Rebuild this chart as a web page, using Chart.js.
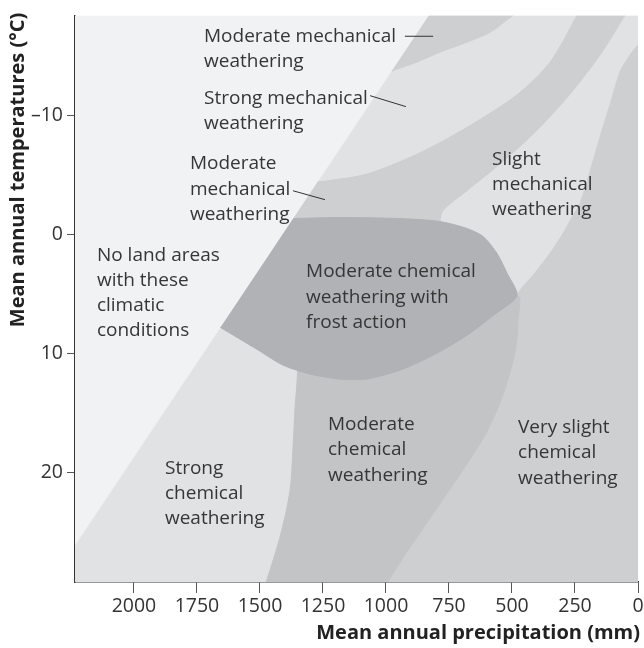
<!DOCTYPE html>
<html>
<head>
<meta charset="utf-8">
<script src="https://cdn.jsdelivr.net/npm/chart.js@4.4.1/dist/chart.umd.min.js"></script>
<style>
  html, body { margin: 0; padding: 0; background: #fff; }
</style>
</head>
<body>
<canvas id="grafico" width="644" height="648"></canvas>
<script>
// eixos: precipitação (mm, invertido) e temperatura (°C, invertido)
const precipRange = [0, 2234];
const tempRange = [-18.4, 29.25];
const precipTicks = [0, 250, 500, 750, 1000, 1250, 1500, 1750, 2000];
const tempTicks = [-10, 0, 10, 20];
const xTitle = "Mean annual precipitation (mm)";
const yTitle = "Mean annual temperatures (°C)";

// contornos das regiões: [precipitação, temperatura]
const noLandArea = [[-60, -20], [2400, -20], [2400, 31], [-60, 31]];
const strongBand = [[780, -20], [-60, -20], [-60, 31], [2386, 31]];
const upperMechanical = [[977, -13.75], [877, -14.5], [786, -15.33], [679, -16.17], [587, -17.0], [496, -18.42], [377, -20.1], [780, -20]];
const lowerMechanical = [[1441, 1.0], [800, 1.0], [786, -1.08], [774, -2.0], [679, -3.67], [548, -5.92], [417, -8.42], [282, -11.5], [151, -15.08], [52, -18.42], [-2, -20.1], [196, -20.1], [242, -18.42], [349, -14.5], [480, -11.75], [679, -9.0], [877, -6.75], [1075, -5.08], [1234, -4.5], [1271, -4.42]];
const verySlight = [[1042, 31], [944, 27.58], [813, 23.5], [679, 19.33], [599, 16.58], [536, 13.5], [488, 9.92], [476, 7.17], [480, 5.17], [409, 3.25], [349, 1.58], [302, 0.08], [258, -1.58], [230, -2.58], [190, -5.33], [151, -8.17], [111, -10.92], [71, -13.67], [32, -15.08], [0, -15.92], [-60, -16.7], [-60, 31]];
const moderateChemical = [[1502, 31], [1421, 25.5], [1381, 21.58], [1369, 18.0], [1361, 14.67], [1353, 12.42], [1349, 10.75], [1349, 9.08], [865, 8.25], [480, 5.17], [476, 7.17], [488, 9.92], [536, 13.5], [599, 16.58], [679, 19.33], [813, 23.5], [944, 27.58], [1042, 31]];
const frostAction = [[1657, 7.83], [1512, 9.67], [1409, 11.0], [1302, 11.75], [1183, 12.17], [1075, 12.17], [944, 11.42], [813, 10.17], [679, 8.5], [575, 6.83], [480, 5.17], [520, 3.25], [560, 1.58], [615, 0.17], [679, -0.5], [786, -1.08], [944, -1.33], [1183, -1.42], [1368, -1.33]];

// linhas de chamada
const leaderTop = [[925, -16.67], [813, -16.67]];
const leaderStrong = [[1063, -11.67], [921, -10.75]];
const leaderModerate = [[1369, -3.67], [1242, -2.92]];

// textos das regiões (canto esquerdo, centro da primeira linha)
const regionNotes = [
  { lines: ["Moderate mechanical", "weathering"], at: [1722, -16.67] },
  { lines: ["Strong mechanical", "weathering"], at: [1722, -11.42] },
  { lines: ["Moderate", "mechanical", "weathering"], at: [1778, -5.92] },
  { lines: ["Slight", "mechanical", "weathering"], at: [579, -6.33] },
  { lines: ["No land areas", "with these", "climatic", "conditions"], at: [2147, 1.75] },
  { lines: ["Moderate chemical", "weathering with", "frost action"], at: [1317, 3.17] },
  { lines: ["Moderate", "chemical", "weathering"], at: [1230, 16.0] },
  { lines: ["Very slight", "chemical", "weathering"], at: [476, 16.25] },
  { lines: ["Strong", "chemical", "weathering"], at: [1877, 19.67] }
];

if (typeof Chart === "undefined") throw new Error("Chart.js não carregou!");

Chart.defaults.font.family = "'Open Sans', sans-serif";
Chart.defaults.color = "#333";

const pontos = (arr) => arr.map(([x, y]) => ({ x, y }));

function regiao(arr, cor, ordem, tensao) {
  return {
    data: pontos(arr),
    backgroundColor: cor,
    borderColor: cor,
    borderWidth: 1,
    pointRadius: 0,
    pointHoverRadius: 0,
    fill: "shape",
    tension: tensao,
    order: ordem
  };
}

function chamada(arr) {
  return {
    data: pontos(arr),
    borderColor: "#333",
    borderWidth: 1,
    pointRadius: 0,
    fill: false,
    tension: 0,
    order: 0
  };
}

// textos e títulos dos eixos
const notas = {
  id: "notas",
  afterDatasetsDraw(chart) {
    const { ctx, chartArea, scales: { x, y } } = chart;
    ctx.save();
    ctx.fillStyle = "#363636";
    ctx.font = "19px 'Open Sans'";
    ctx.textAlign = "left";
    ctx.textBaseline = "middle";
    regionNotes.forEach((n) => {
      const px = x.getPixelForValue(n.at[0]);
      const py = y.getPixelForValue(n.at[1]);
      n.lines.forEach((t, i) => ctx.fillText(t, px, py + i * 25.3));
    });

    ctx.fillStyle = "#222";
    ctx.font = "bold 20px 'Open Sans'";
    ctx.textAlign = "right";
    ctx.fillText(xTitle, chartArea.right + 2, 633);
    ctx.translate(18, chartArea.top - 3);
    ctx.rotate(-Math.PI / 2);
    ctx.fillText(yTitle, 0, 0);
    ctx.restore();
  }
};

const canvas = document.getElementById("grafico");
const grafico = new Chart(canvas.getContext("2d"), {
  type: "line",
  data: {
    datasets: [
      regiao(noLandArea, "#f1f2f3", 7, 0),
      regiao(strongBand, "#e1e2e4", 6, 0),
      regiao(upperMechanical, "#cecfd1", 5, 0.3),
      regiao(lowerMechanical, "#cecfd1", 4, 0.3),
      regiao(verySlight, "#cecfd1", 3, 0.3),
      regiao(moderateChemical, "#c3c4c6", 2, 0.3),
      regiao(frostAction, "#b1b2b5", 1, 0.25),
      chamada(leaderTop),
      chamada(leaderStrong),
      chamada(leaderModerate)
    ]
  },
  options: {
    responsive: false,
    animation: false,
    devicePixelRatio: 1,
    events: [],
    layout: { padding: { top: 10, right: 6, left: 0, bottom: 0 } },
    plugins: { legend: { display: false }, tooltip: { enabled: false } },
    scales: {
      x: {
        type: "linear",
        reverse: true,
        min: precipRange[0],
        max: precipRange[1],
        afterBuildTicks: (eixo) => { eixo.ticks = precipTicks.map((v) => ({ value: v })); },
        afterFit: (eixo) => { eixo.height = 66; },
        ticks: { callback: (v) => String(v), font: { size: 19.5 }, color: "#333", padding: 2, maxRotation: 0, autoSkip: false },
        grid: { drawOnChartArea: false, tickLength: 11, tickColor: "#555" },
        border: { color: "#333", width: 1.5 }
      },
      y: {
        type: "linear",
        reverse: true,
        min: tempRange[0],
        max: tempRange[1],
        afterBuildTicks: (eixo) => { eixo.ticks = tempTicks.map((v) => ({ value: v })); },
        afterFit: (eixo) => { eixo.width = 75; },
        ticks: { callback: (v) => (v < 0 ? "\u2013" + Math.abs(v) : String(v)), font: { size: 19.5 }, color: "#333", padding: 4 },
        grid: { drawOnChartArea: false, tickLength: 8, tickColor: "#555" },
        border: { color: "#333", width: 1.5 }
      }
    }
  },
  plugins: [notas]
});
</script>
</body>
</html>
